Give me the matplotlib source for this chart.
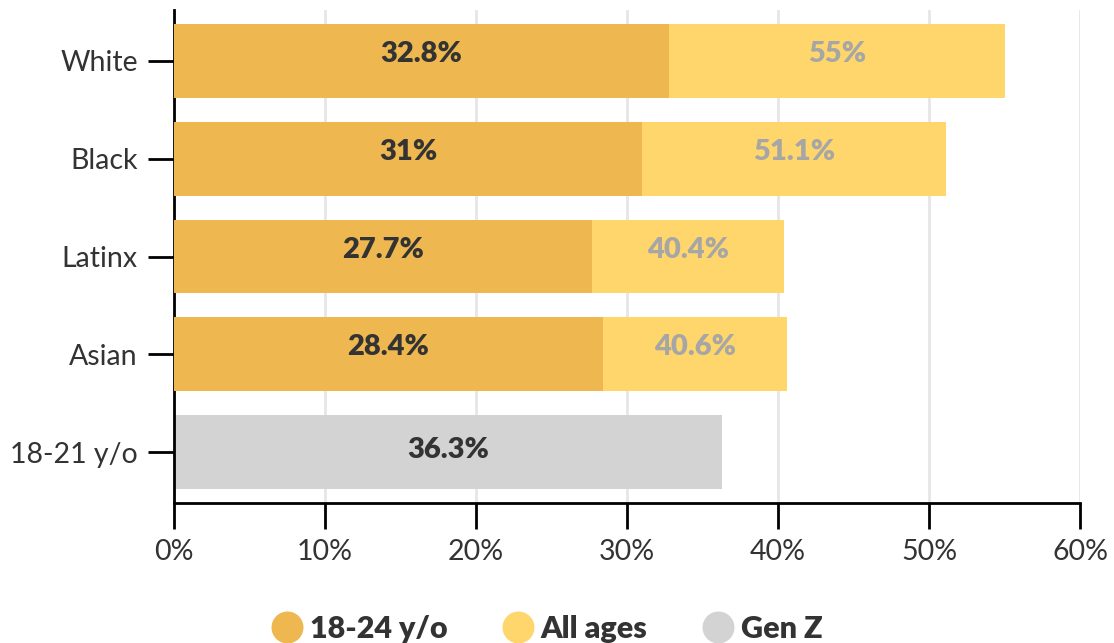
import matplotlib.pyplot as plt
from matplotlib.lines import Line2D

plt.rcParams['font.family'] = ['Lato', 'DejaVu Sans']

# data
groups = ['White', 'Black', 'Latinx', 'Asian', '18-21 y/o']
young = [32.8, 31.0, 27.7, 28.4, None]      # 18-24 y/o
all_ages = [55.0, 51.1, 40.4, 40.6, None]
gen_z = [None, None, None, None, 36.3]
young_lbl = ['32.8%', '31%', '27.7%', '28.4%']
all_lbl = ['55%', '51.1%', '40.4%', '40.6%']
genz_lbl = ['36.3%']
xticks = [0, 10, 20, 30, 40, 50, 60]

c_young = '#EFB74F'
c_all = '#FFD66B'
c_genz = '#D3D3D3'
dark = '#333333'

fig = plt.figure(figsize=(11.14, 6.43), dpi=100)
ax = fig.add_axes([0.1562, 0.2177, 0.8133, 0.7667])

h = 0.755
for i, g in enumerate(groups):
    if all_ages[i] is not None:
        ax.barh(i, all_ages[i], height=h, color=c_all, zorder=2)
        ax.text((young[i] + all_ages[i]) / 2, i - 0.07, all_lbl[i], ha='center', va='center',
                fontsize=21, fontweight='heavy', color='#A6A6A6', zorder=4)
    if young[i] is not None:
        ax.barh(i, young[i], height=h, color=c_young, zorder=3)
        ax.text(young[i] / 2, i - 0.07, young_lbl[i], ha='center', va='center',
                fontsize=21, fontweight='heavy', color=dark, zorder=4)
    if gen_z[i] is not None:
        ax.barh(i, gen_z[i], height=h, color=c_genz, zorder=2)
        ax.text(gen_z[i] / 2, i - 0.02, genz_lbl[0], ha='center', va='center',
                fontsize=21, fontweight='heavy', color=dark, zorder=4)

ax.set_xlim(0, 60)
ax.set_ylim(4.52, -0.52)
ax.set_yticks(range(len(groups)))
ax.set_yticklabels(groups)
ax.set_xticks(xticks)
ax.set_xticklabels([f'{t}%' for t in xticks])
ax.tick_params(axis='both', length=19, width=2, color='black', labelsize=20.5,
               labelcolor=dark, pad=7)

ax.grid(axis='x', color='#E6E6E6', linewidth=2, zorder=0)
ax.set_axisbelow(True)
for s in ['top', 'right']:
    ax.spines[s].set_visible(False)
ax.spines['left'].set_linewidth(2)
ax.spines['bottom'].set_linewidth(2)

handles = [Line2D([], [], marker='o', linestyle='', markersize=22, color=c)
           for c in [c_young, c_all, c_genz]]
leg = fig.legend(handles, ['18-24 y/o', 'All ages', 'Gen Z'], loc='center',
                 bbox_to_anchor=(0.487, 0.022), ncol=3, frameon=False,
                 handletextpad=-0.05, columnspacing=1.5, handlelength=1.6,
                 prop={'size': 22, 'weight': 'heavy'})
for t in leg.get_texts():
    t.set_color(dark)

fig.savefig('out.png', dpi=100)
